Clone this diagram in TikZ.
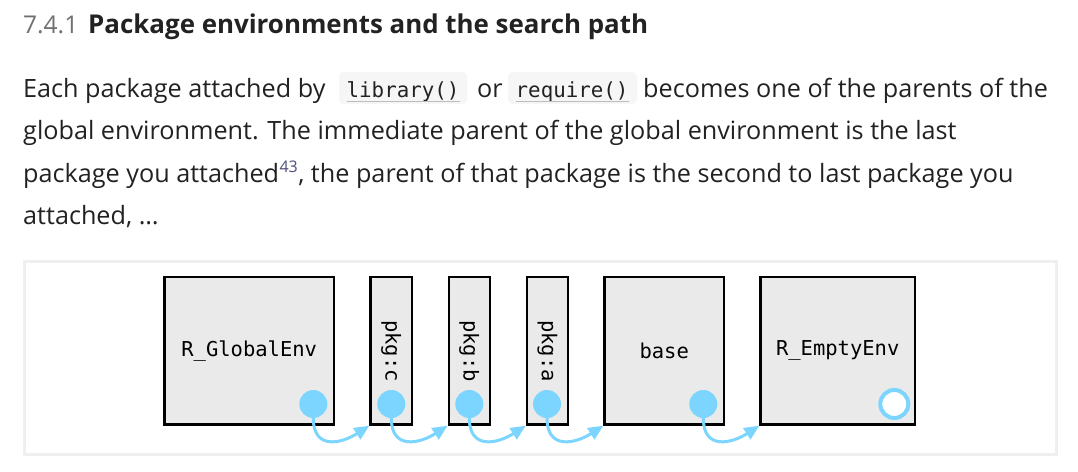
\documentclass[tikz,border=0pt]{standalone}
\usepackage{fontspec}
\setmainfont{Open Sans}
\setmonofont{DejaVu Sans Mono}
\usetikzlibrary{arrows.meta}
\definecolor{envfill}{HTML}{EAEAEA}
\definecolor{pblue}{HTML}{7CD5FE}
\definecolor{framegray}{HTML}{EFEFEF}
\definecolor{txt}{HTML}{222222}
\definecolor{numgray}{HTML}{707070}
\definecolor{pillbg}{HTML}{F6F6F6}
\definecolor{ulgray}{HTML}{BDBDBD}
\definecolor{suplink}{HTML}{4E4E7E}
\tikzset{
  bodytxt/.style={anchor=base west, inner sep=0pt, text=txt, font=\fontsize{25.2}{30}\selectfont},
  pill/.style={fill=pillbg, rounded corners=5pt, draw=none},
  codetxt/.style={anchor=base west, inner sep=0pt, text=txt, font=\ttfamily\fontsize{20.8}{24}\selectfont},
  envbox/.style={draw=black, line width=2.4pt, fill=envfill, inner sep=0pt, minimum height=147.6pt, font=\ttfamily\fontsize{20.5}{24}\selectfont},
  pkglab/.style={rotate=-90, font=\ttfamily\fontsize{20.5}{24}\selectfont, inner sep=0pt},
  dot/.style={circle, fill=pblue, draw=none, minimum size=28pt, inner sep=0pt},
  ring/.style={circle, fill=white, draw=pblue, line width=4pt, minimum size=28pt, inner sep=0pt},
  arr/.style={draw=pblue, line width=3pt, -{Triangle[length=15pt,width=13pt]}},
}
\begin{document}
\begin{tikzpicture}[x=1pt,y=-1pt]
\useasboundingbox (0,0) rectangle (1078,471);
\fill[white] (0,0) rectangle (1078,471);
% heading
\node[anchor=base west, inner sep=0pt, text=numgray, font=\fontsize{24.5}{28}\selectfont] (secnum) at (23,33) {7.4.1};
\node[anchor=base west, inner sep=0pt, text=txt, font=\bfseries\fontsize{25.9}{30}\selectfont] (sectitle) at (88,33) {Package environments and the search path};
% paragraph line 1
\node[bodytxt] (l1a) at (23,97) {Each package attached by};
\path[pill] (339,72) rectangle (467,104);
\node[codetxt] (code1) at (346.5,97) {library()};
\draw[ulgray, line width=1.4pt] (346.5,101.5) -- (460,101.5);
\node[bodytxt] (l1b) at (477,97) {or};
\path[pill] (508,72) rectangle (637,104);
\node[codetxt] (code2) at (515.5,97) {require()};
\draw[ulgray, line width=1.4pt] (515.5,101.5) -- (629,101.5);
\node[bodytxt] (l1c) at (643,97) {becomes one of the parents of the};
% line 2
\node[bodytxt] (l2) at (23,139) {global environment. The immediate parent of the global environment is the last};
% line 3
\node[bodytxt] (l3a) at (23,182) {package you attached};
\node[anchor=base west, inner sep=0pt, text=suplink, font=\fontsize{16}{18}\selectfont] (sup) at ([yshift=10pt]l3a.base east) {43};
\node[bodytxt] (l3b) at ([yshift=-10pt]sup.base east) {, the parent of that package is the second to last package you};
% line 4
\node[bodytxt] (l4) at (23,224) {attached, \dots};
% frame
\draw[framegray, line width=3pt] (24.5,261.5) rectangle (1056.5,454.5);
% environment boxes
\node[envbox, minimum width=169.3pt] (glob) at (249.2,350.7) {R\_GlobalEnv};
\node[envbox, minimum width=41.6pt] (pkgc) at (391.3,350.7) {};
\node[pkglab] (pkgclab) at (391.3,351) {pkg:c};
\node[envbox, minimum width=41pt] (pkgb) at (469.3,350.7) {};
\node[pkglab] (pkgblab) at (469.3,351) {pkg:b};
\node[envbox, minimum width=41.2pt] (pkga) at (547.5,350.7) {};
\node[pkglab] (pkgalab) at (547.5,351) {pkg:a};
\node[envbox, minimum width=119.3pt] (base) at (664.2,350.7) {base};
\node[envbox, minimum width=154.3pt] (empty) at (837.7,350.7) {R\_EmptyEnv};
% dots
\node[dot] (d1) at (313.3,404) {};
\node[dot] (d2) at (391.3,404) {};
\node[dot] (d3) at (469.3,404) {};
\node[dot] (d4) at (547,404) {};
\node[dot] (d5) at (703.3,404) {};
\node[ring] (d6) at (894.3,404) {};
% arrows
\draw[arr] (d1.south) .. controls +(0,32) and +(-28,18) .. (pkgc.south west);
\draw[arr] (d2.south) .. controls +(0,32) and +(-28,18) .. (pkgb.south west);
\draw[arr] (d3.south) .. controls +(0,32) and +(-28,18) .. (pkga.south west);
\draw[arr] (d4.south) .. controls +(0,32) and +(-28,18) .. (base.south west);
\draw[arr] (d5.south) .. controls +(0,32) and +(-28,18) .. (empty.south west);
\end{tikzpicture}
\end{document}
